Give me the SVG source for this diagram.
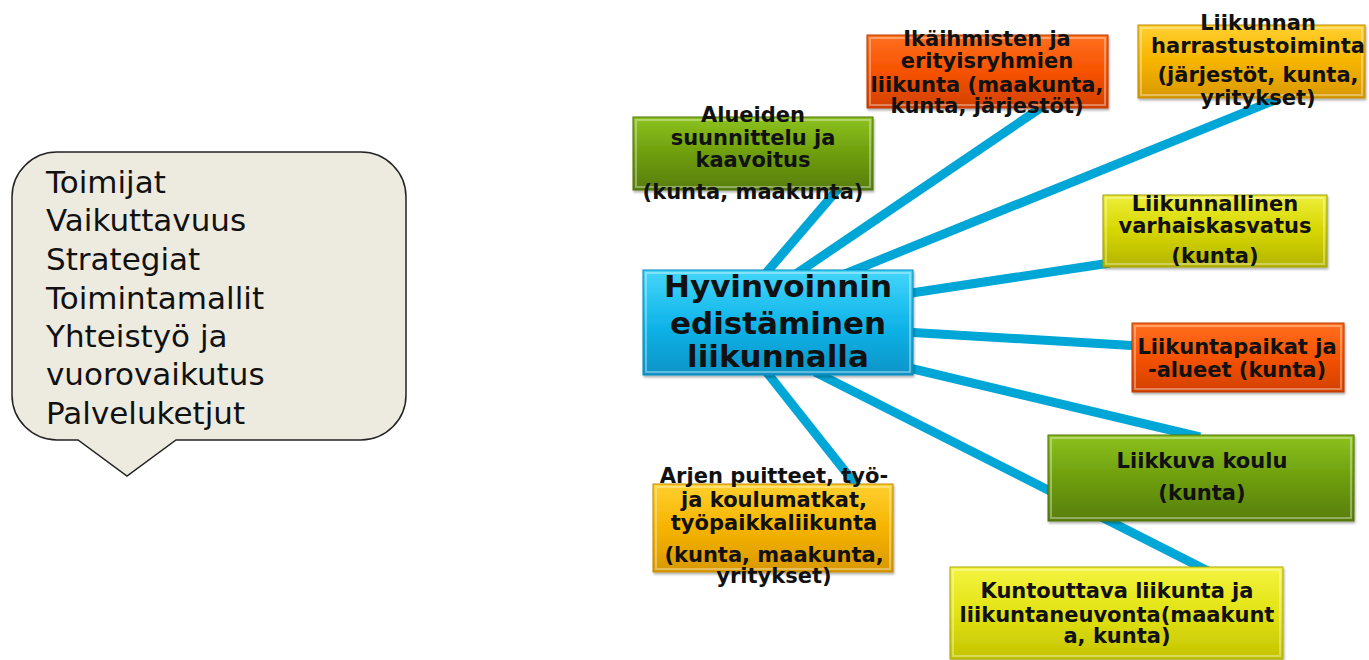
<svg xmlns="http://www.w3.org/2000/svg" width="1369" height="660" viewBox="0 0 1369 660">
<defs>
<linearGradient id="gBlue" x1="0" y1="0" x2="0" y2="1"><stop offset="0" stop-color="#45D6FA"/><stop offset="0.5" stop-color="#12B6EA"/><stop offset="1" stop-color="#0A94C8"/></linearGradient>
<linearGradient id="gGreen" x1="0" y1="0" x2="0" y2="1"><stop offset="0" stop-color="#8CC21E"/><stop offset="0.5" stop-color="#6E9E0E"/><stop offset="1" stop-color="#587E08"/></linearGradient>
<linearGradient id="gRed" x1="0" y1="0" x2="0" y2="1"><stop offset="0" stop-color="#FF7020"/><stop offset="0.5" stop-color="#F65200"/><stop offset="1" stop-color="#D24000"/></linearGradient>
<linearGradient id="gGold" x1="0" y1="0" x2="0" y2="1"><stop offset="0" stop-color="#FFD030"/><stop offset="0.5" stop-color="#F6B400"/><stop offset="1" stop-color="#D89800"/></linearGradient>
<linearGradient id="gYellow" x1="0" y1="0" x2="0" y2="1"><stop offset="0" stop-color="#EEEE3A"/><stop offset="0.5" stop-color="#D6D600"/><stop offset="1" stop-color="#B4B400"/></linearGradient>
<linearGradient id="gYellow2" x1="0" y1="0" x2="0" y2="1"><stop offset="0" stop-color="#F4F440"/><stop offset="0.5" stop-color="#E2E214"/><stop offset="1" stop-color="#C4C400"/></linearGradient>
<filter id="sh" x="-5%" y="-5%" width="110%" height="115%"><feDropShadow dx="1" dy="2" stdDeviation="1.2" flood-color="#000" flood-opacity="0.3"/></filter>
</defs>
<style>
.box{filter:url(#sh);stroke-width:1}
.hl{fill:none;stroke:#fff;stroke-opacity:0.35;stroke-width:2}
.t{font-family:"DejaVu Sans","Verdana",sans-serif;font-weight:bold;font-size:21px;fill:#111;text-anchor:middle}
.tc{font-family:"DejaVu Sans","Verdana",sans-serif;font-weight:bold;font-size:31px;fill:#111;text-anchor:middle}
.tl{font-family:"DejaVu Sans","Verdana",sans-serif;font-size:31px;fill:#111}
.con{stroke:#00A6D6;stroke-width:9;fill:none;stroke-linecap:butt}
</style>
<rect width="1369" height="660" fill="#fff"/>
<g id="callout">
<path d="M57,152 H361 A45,45 0 0 1 406,197 V395 A45,45 0 0 1 361,440 H176 L127,476 L78,440 H57 A45,45 0 0 1 12,395 V197 A45,45 0 0 1 57,152 Z" fill="#EDEBE0" stroke="#222" stroke-width="1.5"/>
<text class="tl" x="46" y="193">Toimijat</text>
<text class="tl" x="46" y="231">Vaikuttavuus</text>
<text class="tl" x="46" y="270">Strategiat</text>
<text class="tl" x="46" y="309">Toimintamallit</text>
<text class="tl" x="46" y="347">Yhteistyö ja</text>
<text class="tl" x="46" y="385">vuorovaikutus</text>
<text class="tl" x="46" y="424">Palveluketjut</text>
</g>
<g id="connectors">
<line class="con" x1="760" y1="280" x2="850" y2="175"/>
<line class="con" x1="790" y1="278" x2="1045" y2="105"/>
<line class="con" x1="835" y1="278" x2="1280" y2="98"/>
<line class="con" x1="905" y1="294" x2="1110" y2="263"/>
<line class="con" x1="905" y1="332" x2="1140" y2="346"/>
<line class="con" x1="905" y1="367" x2="1200" y2="437"/>
<line class="con" x1="815" y1="372" x2="1210" y2="572"/>
<line class="con" x1="765" y1="370" x2="860" y2="490"/>
</g>
<g id="center">
<rect class="box" x="643" y="270" width="270" height="105" fill="url(#gBlue)" stroke="#0A88BA"/>
<rect class="hl" x="646" y="273" width="264" height="99"/>
<text class="tc" x="778" y="297">Hyvinvoinnin</text>
<text class="tc" x="778" y="334">edistäminen</text>
<text class="tc" x="778" y="367">liikunnalla</text>
</g>
<g id="alueiden">
<rect class="box" x="633" y="117" width="240" height="73" fill="url(#gGreen)" stroke="#4E7006"/>
<rect class="hl" x="636" y="120" width="234" height="67"/>
<text class="t" x="753" y="122">Alueiden</text>
<text class="t" x="753" y="145">suunnittelu ja</text>
<text class="t" x="753" y="167">kaavoitus</text>
<text class="t" x="753" y="199">(kunta, maakunta)</text>
</g>
<g id="ikaihmisten">
<rect class="box" x="867" y="35" width="241" height="73" fill="url(#gRed)" stroke="#B83A00"/>
<rect class="hl" x="870" y="38" width="235" height="67"/>
<text class="t" x="987" y="46">Ikäihmisten ja</text>
<text class="t" x="987" y="68">erityisryhmien</text>
<text class="t" x="987" y="92">liikunta (maakunta,</text>
<text class="t" x="987" y="113">kunta, järjestöt)</text>
</g>
<g id="harrastus">
<rect class="box" x="1138" y="25" width="227" height="73" fill="url(#gGold)" stroke="#C08800"/>
<rect class="hl" x="1141" y="28" width="221" height="67"/>
<text class="t" x="1258" y="30">Liikunnan</text>
<text class="t" x="1258" y="53">harrastustoiminta</text>
<text class="t" x="1258" y="82">(järjestöt, kunta,</text>
<text class="t" x="1258" y="105">yritykset)</text>
</g>
<g id="varhaiskasvatus">
<rect class="box" x="1103" y="195" width="224" height="72" fill="url(#gYellow)" stroke="#9E9E00"/>
<rect class="hl" x="1106" y="198" width="218" height="66"/>
<text class="t" x="1215" y="211">Liikunnallinen</text>
<text class="t" x="1215" y="233">varhaiskasvatus</text>
<text class="t" x="1215" y="263">(kunta)</text>
</g>
<g id="liikuntapaikat">
<rect class="box" x="1132" y="323" width="212" height="69" fill="url(#gRed)" stroke="#B83A00"/>
<rect class="hl" x="1135" y="326" width="206" height="63"/>
<text class="t" x="1237" y="354">Liikuntapaikat ja</text>
<text class="t" x="1237" y="377">-alueet (kunta)</text>
</g>
<g id="liikkuvakoulu">
<rect class="box" x="1048" y="435" width="306" height="86" fill="url(#gGreen)" stroke="#4E7006"/>
<rect class="hl" x="1051" y="438" width="300" height="80"/>
<text class="t" x="1202" y="468">Liikkuva koulu</text>
<text class="t" x="1202" y="500">(kunta)</text>
</g>
<g id="kuntouttava">
<rect class="box" x="950" y="567" width="333" height="92" fill="url(#gYellow2)" stroke="#A8A800"/>
<rect class="hl" x="953" y="570" width="327" height="86"/>
<text class="t" x="1117" y="598">Kuntouttava liikunta ja</text>
<text class="t" x="1117" y="622">liikuntaneuvonta(maakunt</text>
<text class="t" x="1117" y="643">a, kunta)</text>
</g>
<g id="arjen">
<rect class="box" x="653" y="484" width="240" height="88" fill="url(#gGold)" stroke="#C08800"/>
<rect class="hl" x="656" y="487" width="234" height="82"/>
<text class="t" x="774" y="483">Arjen puitteet, työ-</text>
<text class="t" x="774" y="507">ja koulumatkat,</text>
<text class="t" x="774" y="530">työpaikkaliikunta</text>
<text class="t" x="774" y="562">(kunta, maakunta,</text>
<text class="t" x="774" y="583">yritykset)</text>
</g>
</svg>
